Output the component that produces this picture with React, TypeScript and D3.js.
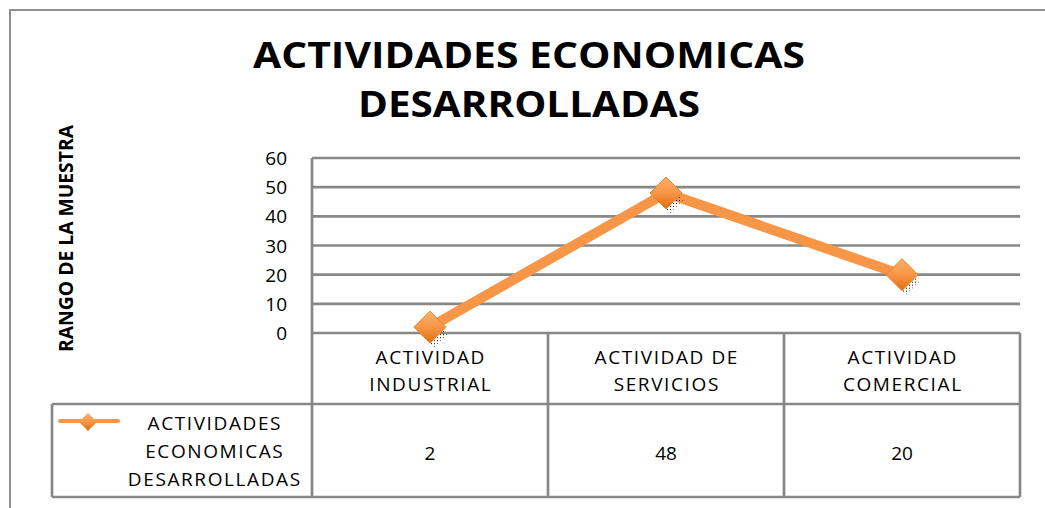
import React from "react";
import * as d3 from "d3";

// chart data
const categories = ["ACTIVIDAD INDUSTRIAL", "ACTIVIDAD DE SERVICIOS", "ACTIVIDAD COMERCIAL"];
const categoryLines = [["ACTIVIDAD", "INDUSTRIAL"], ["ACTIVIDAD DE", "SERVICIOS"], ["ACTIVIDAD", "COMERCIAL"]];
const seriesName = ["ACTIVIDADES", "ECONOMICAS", "DESARROLLADAS"];
const values = [2, 48, 20];
const yTicks = [0, 10, 20, 30, 40, 50, 60];
const titleLines = ["ACTIVIDADES ECONOMICAS", "DESARROLLADAS"];
const yTitle = "RANGO DE LA MUESTRA";

const W = 1045, H = 508;
const plot = { left: 312, right: 1020, top: 158, bottom: 333 };
const rowSep = 404, tableBottom = 497, legendLeft = 52;
const grid = "#888888";
const orange = "#F79646";
const font = "'Open Sans', 'Liberation Sans', sans-serif";
const ls = 1.6; // letter spacing of the table labels

const App = () => {
	const x = d3.scaleBand().domain(categories).range([plot.left, plot.right]).padding(0);
	const y = d3.scaleLinear().domain([0, 60]).range([plot.bottom, plot.top]);
	const cx = (i) => x(categories[i]) + x.bandwidth() / 2;

	const line = d3.line().x((d, i) => cx(i)).y(d => y(d));
	const diamond = (s) => `M0,${-s} L${s},0 L0,${s} L${-s},0 Z`;

	return (
		<svg width={W} height={H} style={{ position: "absolute", left: 0, top: 0, background: "white" }}>
			<defs>
				<linearGradient id="mk" x1="0" y1="0" x2="0" y2="1">
					<stop offset="0%" stopColor="#FBB06A" />
					<stop offset="50%" stopColor="#F79646" />
					<stop offset="100%" stopColor="#E0700F" />
				</linearGradient>
				<pattern id="dots" width="3" height="3" patternUnits="userSpaceOnUse">
					<rect x="0" y="0" width="1" height="1" fill="#111" />
				</pattern>
			</defs>

			{/* outer chart border */}
			<rect x={10} y={10} width={W + 20} height={H + 20} fill="none" stroke="#8f8f8f" strokeWidth={2} />

			{/* title */}
			{titleLines.map((t, i) => (
				<text key={t} x={529} y={i === 0 ? 68 : 117} textAnchor="middle" fontFamily={font}
					fontWeight="bold" fontSize={35} fill="#000"
					textLength={i === 0 ? 552 : 342} lengthAdjust="spacingAndGlyphs">{t}</text>
			))}

			{/* y axis title */}
			<text transform={`translate(73, ${(125 + 352) / 2}) rotate(-90)`} textAnchor="middle"
				fontFamily={font} fontWeight="bold" fontSize={20} textLength={227}
				lengthAdjust="spacingAndGlyphs">{yTitle}</text>

			{/* gridlines */}
			{yTicks.map(t => (
				<g key={t}>
					<line x1={plot.left} x2={plot.right} y1={y(t)} y2={y(t)} stroke={grid} strokeWidth={2.7} />
					<text x={287} y={y(t) + 7} textAnchor="end" fontFamily={font} fontSize={19} fill="#000">{t}</text>
				</g>
			))}

			{/* data table */}
			<g stroke={grid} strokeWidth={2.7} fill="none">
				<line x1={plot.left} x2={plot.left} y1={plot.top} y2={tableBottom} />
				<line x1={legendLeft} x2={plot.right} y1={rowSep} y2={rowSep} />
				<line x1={legendLeft} x2={plot.right} y1={tableBottom} y2={tableBottom} />
				<line x1={legendLeft} x2={legendLeft} y1={rowSep} y2={tableBottom} />
				{categories.map(c => (
					<line key={c} x1={x(c) + x.bandwidth()} x2={x(c) + x.bandwidth()} y1={plot.bottom} y2={tableBottom} />
				))}
			</g>
			{categoryLines.map((lines, i) => lines.map((l, j) => (
				<text key={i + "-" + j} x={cx(i) + ls / 2} y={364 + j * 27} textAnchor="middle" fontFamily={font}
					fontSize={19} letterSpacing={ls} fill="#000">{l}</text>
			)))}
			{values.map((v, i) => (
				<text key={i} x={cx(i)} y={460} textAnchor="middle" fontFamily={font} fontSize={19} fill="#000">{v}</text>
			))}

			{/* legend */}
			<line x1={60} x2={118} y1={421} y2={421} stroke={orange} strokeWidth={4} strokeLinecap="round" />
			<path d={diamond(9)} transform="translate(88,422)" fill="url(#mk)" />
			{seriesName.map((s, i) => (
				<text key={s} x={214 + ls / 2} y={430 + i * 28} textAnchor="middle" fontFamily={font}
					fontSize={19} letterSpacing={ls} fill="#000">{s}</text>
			))}

			{/* series line */}
			<path d={line(values)} fill="none" stroke={orange} strokeWidth={10} strokeLinejoin="miter" />
			{values.map((v, i) => (
				<g key={i} transform={`translate(${cx(i)}, ${y(v)})`}>
					<path d={diamond(13)} transform="translate(4,7)" fill="url(#dots)" />
					<path d={diamond(16)} fill="url(#mk)" stroke="#E8802A" strokeWidth={1} />
				</g>
			))}
		</svg>
	);
};

export default App;
